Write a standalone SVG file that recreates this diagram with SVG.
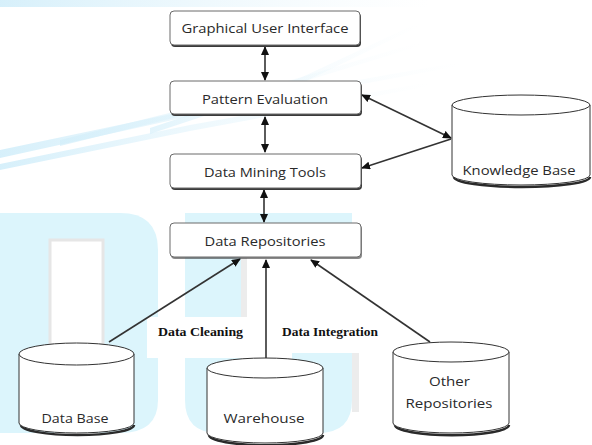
<svg xmlns="http://www.w3.org/2000/svg" width="592" height="445" viewBox="0 0 592 445">
  <style>
    .box { fill: #ffffff; stroke: #6a6a6a; stroke-width: 1; }
    .shadow { fill: #3a3a3a; }
    .cyl { fill: #ffffff; stroke: #333333; stroke-width: 1; }
    .cylshadow { fill: none; stroke: #2a2a2a; stroke-width: 2.5; }
    .label { font-family: "Open Sans", "Liberation Sans", sans-serif; font-size: 13px; fill: #2a2a2a; text-anchor: middle; }
    .edge-label { font-family: "Liberation Serif", serif; font-size: 12px; font-weight: bold; fill: #111111; }
    .conn { stroke: #333333; stroke-width: 1.6; fill: none; }
    .wm { fill: #dcf5fc; }
    .wm-edge { fill: #ececec; }
  </style>
  <defs>
    <marker id="head" markerWidth="9" markerHeight="8" refX="8" refY="4" orient="auto-start-reverse" markerUnits="userSpaceOnUse">
      <path d="M0,0 L9,4 L0,8 Z" fill="#111111"/>
    </marker>
    <linearGradient id="streak" x1="0" y1="0" x2="1" y2="0">
      <stop offset="0" stop-color="#d2eefa" stop-opacity="0.9"/>
      <stop offset="1" stop-color="#e8f6fc" stop-opacity="0"/>
    </linearGradient>
  </defs>

  <rect width="592" height="445" fill="#ffffff"/>

  <!-- background logo -->
  <g id="backdrop">
    <rect x="0" y="0" width="430" height="7" fill="url(#streak)"/>
    <polygon points="0,150 200,108 460,62 460,66 200,114 0,158" fill="url(#streak)"/>
    <polygon points="0,164 190,125 430,82 430,86 190,131 0,170" fill="url(#streak)"/>
    <polygon points="60,140 230,98 420,42 420,46 230,104 60,146" fill="url(#streak)" opacity="0.8"/>
    <polygon points="150,128 300,78 420,22 420,26 300,84 150,134" fill="url(#streak)" opacity="0.7"/>
    <path class="wm" d="M0,213 H120 Q158,213 158,250 V400 Q158,433 120,433 H0 Z"/>
    <rect x="50" y="240" width="53" height="105" fill="#ffffff" stroke="#e6e6e6" stroke-width="3"/>
    <rect class="wm-edge" x="241" y="258" width="6" height="122"/>
    <rect class="wm-edge" x="352" y="317" width="7" height="95"/>
    <path class="wm" d="M185,213 H352 V223 H185 Z M185,223 H241 V380 H292 V317 H352 V400 Q352,433 318,433 H218 Q185,433 185,400 Z"/>
    <rect x="147" y="317" width="105" height="41" fill="#ffffff"/>
    <rect x="269" y="317" width="112" height="36" fill="#ffffff"/>
  </g>

  <!-- connectors -->
  <g id="connectors">
    <line class="conn" x1="265" y1="47" x2="265" y2="80" marker-start="url(#head)" marker-end="url(#head)"/>
    <line class="conn" x1="265" y1="117" x2="265" y2="152" marker-start="url(#head)" marker-end="url(#head)"/>
    <line class="conn" x1="264" y1="190" x2="264" y2="222" marker-start="url(#head)" marker-end="url(#head)"/>
    <line class="conn" x1="362" y1="95" x2="451" y2="138" marker-start="url(#head)" marker-end="url(#head)"/>
    <line class="conn" x1="451" y1="139" x2="362" y2="168" marker-end="url(#head)"/>
    <line class="conn" x1="109" y1="342" x2="240" y2="259" marker-end="url(#head)"/>
    <line class="conn" x1="266" y1="358" x2="266" y2="260" marker-end="url(#head)"/>
    <line class="conn" x1="430" y1="342" x2="311" y2="260" marker-end="url(#head)"/>
  </g>

  <g id="label-cleaning">
    <text class="edge-label" x="158" y="336" textLength="85" lengthAdjust="spacingAndGlyphs">Data Cleaning</text>
  </g>
  <g id="label-integration">
    <text class="edge-label" x="282" y="336" textLength="96" lengthAdjust="spacingAndGlyphs">Data Integration</text>
  </g>

  <!-- layered boxes -->
  <g id="gui">
    <rect class="shadow" x="171" y="13" width="190" height="34" rx="4"/>
    <rect class="box" x="170" y="11" width="190" height="34" rx="4"/>
    <text class="label" x="265" y="32.5" textLength="167" lengthAdjust="spacingAndGlyphs">Graphical User Interface</text>
  </g>
  <g id="pattern-evaluation">
    <rect class="shadow" x="171" y="83" width="191" height="33" rx="4"/>
    <rect class="box" x="170" y="81" width="191" height="33" rx="4"/>
    <text class="label" x="265" y="103.5" textLength="126" lengthAdjust="spacingAndGlyphs">Pattern Evaluation</text>
  </g>
  <g id="data-mining-tools">
    <rect class="shadow" x="171" y="156" width="191" height="34" rx="4"/>
    <rect class="box" x="170" y="154" width="191" height="34" rx="4"/>
    <text class="label" x="265" y="176.5" textLength="122" lengthAdjust="spacingAndGlyphs">Data Mining Tools</text>
  </g>
  <g id="data-repositories">
    <rect class="shadow" x="171" y="225" width="191" height="34" rx="4" opacity="0.6"/>
    <rect class="box" x="170" y="223" width="191" height="34" rx="4"/>
    <text class="label" x="265" y="245.5" textLength="121" lengthAdjust="spacingAndGlyphs">Data Repositories</text>
  </g>

  <!-- storage cylinders -->
  <g id="knowledge-base">
    <path class="cylshadow" d="M454,177 A68,10 0 0 0 590,177"/>
    <path class="cyl" d="M452,105 V175 A69,10 0 0 0 590,175 V105"/>
    <ellipse class="cyl" cx="521" cy="105" rx="69" ry="10"/>
    <text class="label" x="519" y="174.5" textLength="113" lengthAdjust="spacingAndGlyphs">Knowledge Base</text>
  </g>
  <g id="data-base">
    <path class="cylshadow" d="M21,425 A56,10 0 0 0 134,425"/>
    <path class="cyl" d="M19,354 V423 A57.5,10 0 0 0 134,423 V354"/>
    <ellipse class="cyl" cx="76.5" cy="354" rx="57.5" ry="11"/>
    <text class="label" x="75" y="423" textLength="67" lengthAdjust="spacingAndGlyphs">Data Base</text>
  </g>
  <g id="warehouse">
    <path class="cylshadow" d="M209,435 A56,10 0 0 0 323,435"/>
    <path class="cyl" d="M207,368 V433 A58,10 0 0 0 323,433 V368"/>
    <ellipse class="cyl" cx="265" cy="368" rx="58" ry="10"/>
    <text class="label" x="264" y="422.5" textLength="81" lengthAdjust="spacingAndGlyphs">Warehouse</text>
  </g>
  <g id="other-repositories">
    <path class="cylshadow" d="M395,425 A56,10 0 0 0 509,425"/>
    <path class="cyl" d="M393,352 V423 A58,10 0 0 0 509,423 V352"/>
    <ellipse class="cyl" cx="451" cy="352" rx="58" ry="10"/>
    <text class="label" x="449.5" y="385.5" textLength="41" lengthAdjust="spacingAndGlyphs">Other</text>
    <text class="label" x="449" y="407.5" textLength="87" lengthAdjust="spacingAndGlyphs">Repositories</text>
  </g>
</svg>
